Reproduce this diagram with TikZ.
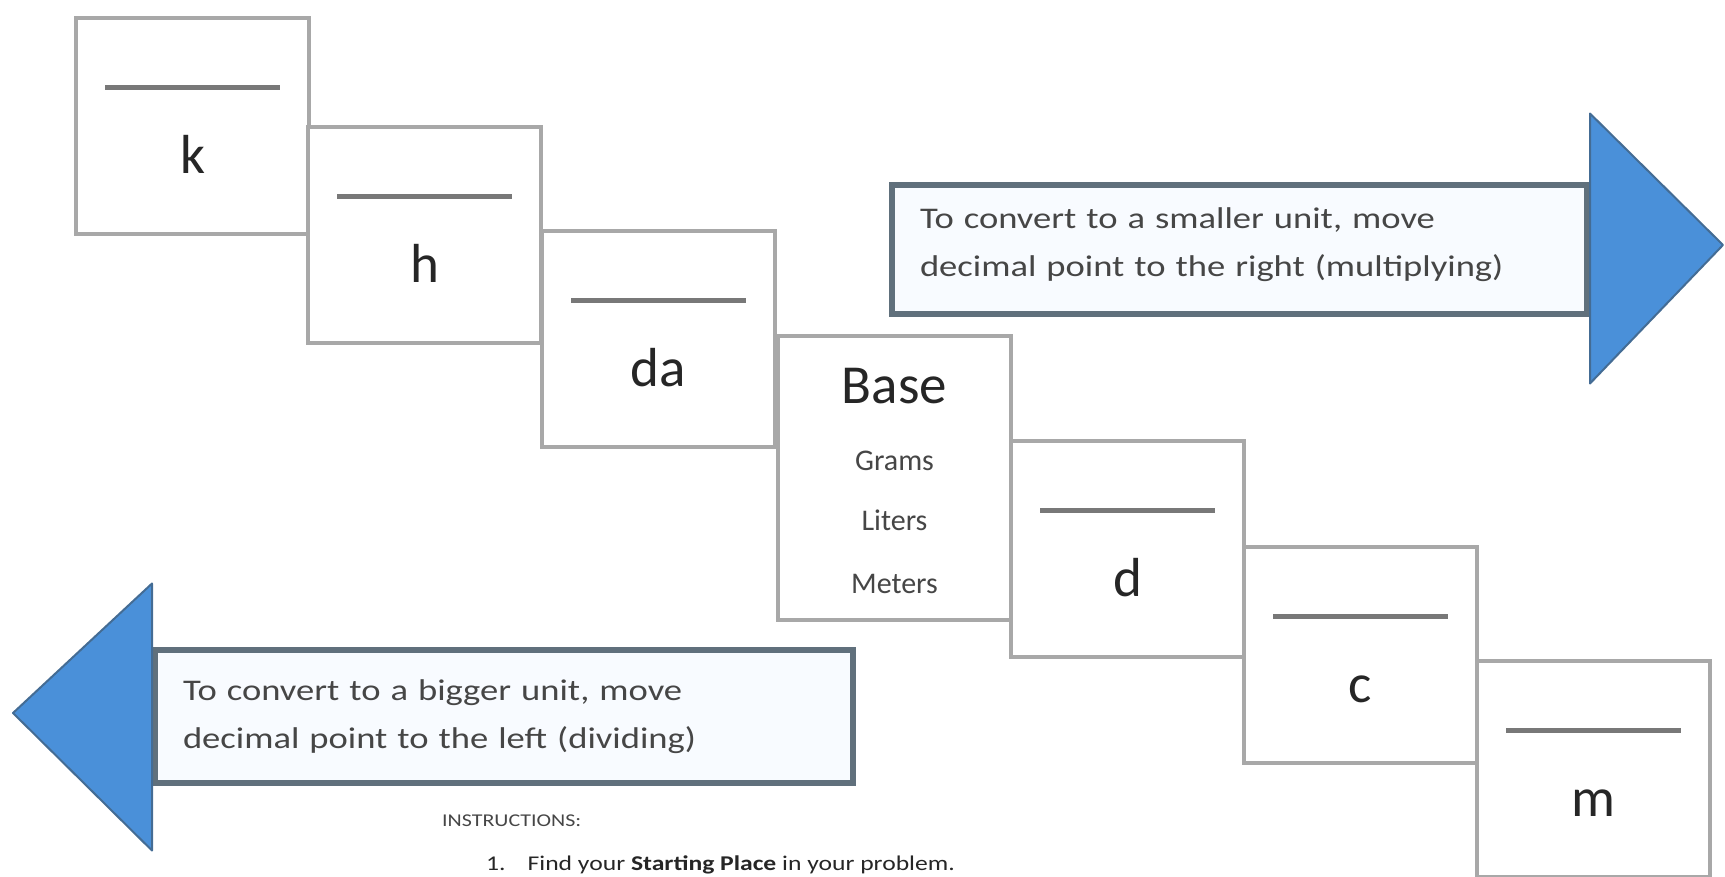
\documentclass[tikz,border=0pt]{standalone}
\usepackage{fontspec}
\setmainfont{Carlito}
\newfontfamily\widefamily[FakeStretch=1.22]{Carlito}
\definecolor{boxgray}{RGB}{168,168,168}
\definecolor{blankgray}{RGB}{120,120,120}
\definecolor{inkgray}{RGB}{38,38,38}
\definecolor{notegray}{RGB}{70,70,70}
\definecolor{slate}{RGB}{96,112,124}
\definecolor{notefill}{RGB}{248,251,255}
\definecolor{headblue}{RGB}{74,144,217}
\definecolor{headedge}{RGB}{68,108,148}
\newcommand{\unitfont}{\fontsize{55}{60}\selectfont}
\newcommand{\basefont}{\fontsize{30}{34}\selectfont}
\newcommand{\notefont}{\widefamily\fontsize{30}{48}\selectfont}
\tikzset{
  unitbox/.style={draw=boxgray, line width=4pt, fill=white, anchor=north west,
    minimum width=233pt, minimum height=216pt, inner sep=0pt},
  blankline/.style={draw=blankgray, line width=5pt},
  unitlabel/.style={anchor=base, inner sep=0pt, text=inkgray, font=\unitfont},
  baselabel/.style={anchor=base, inner sep=0pt, text=notegray, font=\basefont},
  notebox/.style={draw=slate, line width=6pt, fill=notefill, anchor=north west,
    inner xsep=28pt, align=left, text=notegray, font=\notefont},
  arrowhead/.style={fill=headblue, draw=headedge, line width=2pt, line join=round}
}
\begin{document}
\begin{tikzpicture}[x=1pt, y=-1pt]
  \useasboundingbox (0,0) rectangle (1725,876);
  \node[unitbox] (k) at (74,16) {};
  \node[unitbox] (h) at (306,125) {};
  \node[unitbox] (da) at (540,229) {};
  \node[unitbox, minimum height=284pt] (base) at (776,334) {};
  \node[unitbox] (d) at (1009,439) {};
  \node[unitbox] (c) at (1242,545) {};
  \node[unitbox] (m) at (1475,659) {};
  \foreach \u in {k,h,da,d,c,m} {
    \draw[blankline] ([xshift=31pt,yshift=-71pt]\u.north west) -- ([xshift=-31pt,yshift=-71pt]\u.north east);
    \node[unitlabel] (\u lbl) at ([yshift=-157pt]\u.north) {\u};
  }
  \node[unitlabel] (baselbl) at ([yshift=-69pt]base.north) {Base};
  \node[baselabel] (grams) at ([yshift=-136pt]base.north) {Grams};
  \node[baselabel] (liters) at ([yshift=-196pt]base.north) {Liters};
  \node[baselabel] (meters) at ([yshift=-259pt]base.north) {Meters};

  \node[notebox, minimum width=695pt, minimum height=129pt, text width=639pt] (smaller) at (889,182)
    {To convert to a smaller unit, move\\decimal point to the right (multiplying)\vspace{10pt}};
  \coordinate (rtip) at (1723,245);
  \draw[arrowhead] ([yshift=136pt]smaller.east) -- (rtip) -- ([yshift=-134pt]smaller.east) -- cycle;

  \node[notebox, minimum width=698pt, minimum height=133pt, text width=642pt] (bigger) at (152,647)
    {To convert to a bigger unit, move\\decimal point to the left (dividing)};
  \coordinate (ltip) at (13,713);
  \draw[arrowhead] ([yshift=133pt]bigger.west) -- (ltip) -- ([yshift=-134pt]bigger.west) -- cycle;

  \node[anchor=base west, inner sep=0pt, text=notegray, font=\widefamily\fontsize{18}{20}\selectfont] (instr) at (442,826) {INSTRUCTIONS:};
  \node[anchor=base west, inner sep=0pt, text=inkgray, font=\widefamily\fontsize{21}{24}\selectfont] (step1) at (486,870)
    {1.\hspace{22pt}Find your \textbf{Starting Place} in your problem.};
\end{tikzpicture}
\end{document}
